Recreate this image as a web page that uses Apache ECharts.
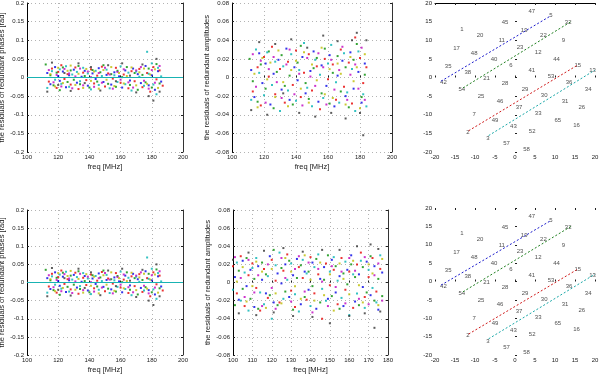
<!DOCTYPE html>
<html>
<head>
<meta charset="utf-8">
<script src="https://cdn.jsdelivr.net/npm/echarts@6/dist/echarts.min.js"></script>
<style>
  html, body { margin: 0; background: #fff; }
  #main { width: 600px; height: 375px; }
</style>
</head>
<body>
<div id="main"></div>
<script>
// residuals of redundant phases (left panels), [freq MHz, rad]
var phBlue = [[113,0.012],[115,-0.018],[118,0.028],[120,0.004],[121,-0.009],[123,0.016],[125,-0.026],[127,0.006],[130,0.021],[132,-0.014],[135,0.002],[137,0.018],[139,-0.022],[142,0.011],[144,-0.004],[146,0.025],[149,-0.012],[151,0.007],[154,-0.019],[156,0.014],[159,0.003],[161,-0.027],[163,0.019],[166,-0.008],[168,0.024],[171,0.009],[173,-0.015],[176,0.031],[178,-0.021],[180,0.006],[182,-0.033],[184,0.017],[186,-0.011]];
var phRed = [[114,-0.011],[116,0.024],[119,-0.028],[120,0.015],[122,0.033],[124,-0.004],[126,0.009],[128,-0.019],[131,0.027],[133,-0.031],[136,0.013],[138,-0.007],[141,0.022],[143,-0.016],[145,0.005],[148,0.029],[150,-0.024],[152,0.011],[155,-0.003],[157,0.026],[160,-0.014],[162,0.008],[165,-0.029],[167,0.017],[169,-0.01],[172,0.023],[174,-0.026],[177,0.012],[179,-0.038],[181,0.028],[183,-0.005],[185,0.019],[187,-0.022]];
var phGreen = [[112,0.035],[115,0.006],[117,-0.021],[119,0.013],[121,-0.034],[123,0.027],[126,-0.012],[128,0.019],[130,-0.006],[133,0.031],[134,-0.018],[137,0.004],[140,-0.027],[142,0.02],[145,-0.011],[147,0.014],[149,0.033],[152,-0.017],[154,0.009],[157,-0.025],[158,0.018],[161,0.001],[164,0.028],[166,-0.02],[169,0.012],[171,-0.033],[174,0.007],[176,-0.013],[178,0.024],[180,-0.027],[183,0.036],[185,-0.016]];
var phCyan = [[113,-0.028],[116,0.017],[118,-0.006],[121,0.022],[122,-0.017],[125,0.03],[127,-0.025],[129,0.008],[132,0.015],[134,-0.01],[136,0.026],[139,0.011],[141,-0.032],[144,0.018],[146,-0.02],[148,0.004],[151,0.021],[153,-0.029],[156,0.006],[158,-0.012],[160,0.03],[163,-0.018],[165,0.013],[167,-0.035],[170,0.016],[172,0.002],[175,-0.022],[177,0.069],[178,0.01],[180,0.038],[181,-0.019],[183,-0.045],[184,0.026],[186,0.003]];
var phMagenta = [[114,0.02],[117,-0.013],[119,0.007],[122,-0.024],[124,0.023],[127,0.011],[129,-0.029],[131,0.003],[134,0.024],[136,-0.021],[139,0.016],[141,0.001],[143,-0.025],[146,0.012],[148,-0.014],[150,0.026],[153,0.008],[155,-0.03],[158,0.015],[160,-0.006],[162,0.022],[165,-0.013],[168,-0.027],[170,0.019],[173,0.028],[175,-0.009],[178,-0.03],[180,0.02],[182,-0.014],[185,0.031]];
var phYellow = [[115,0.009],[118,-0.024],[120,0.026],[123,-0.015],[126,0.018],[128,0.032],[131,-0.02],[133,0.01],[136,-0.028],[138,0.023],[141,-0.009],[143,0.016],[146,-0.03],[149,0.02],[151,-0.006],[154,0.028],[156,-0.023],[159,0.012],[162,-0.016],[164,0.004],[167,0.027],[170,-0.021],[172,0.014],[175,0.024],[177,-0.017],[179,0.008],[182,0.022],[184,-0.028]];
var phBlack = [[113,-0.038],[116,0.04],[120,-0.02],[124,0.012],[128,-0.036],[133,0.038],[137,-0.015],[141,0.028],[147,-0.035],[152,0.033],[157,-0.01],[161,0.038],[166,0.005],[170,-0.04],[174,0.035],[178,-0.05],[181,-0.062],[183,0.05],[185,-0.038]];

// residuals of redundant amplitudes, top-middle panel
var amTopBlue = [[112,0.008],[114,-0.021],[117,0.026],[119,-0.006],[121,0.015],[124,-0.029],[126,0.004],[129,0.019],[131,-0.013],[134,0.031],[136,-0.024],[139,0.011],[141,-0.003],[144,0.022],[146,-0.017],[149,0.007],[151,0.028],[154,-0.026],[156,0.013],[159,-0.009],[161,0.024],[164,-0.031],[166,0.002],[169,0.018],[171,-0.02],[174,0.027],[176,-0.012],[179,0.006],[181,-0.027],[183,0.015]];
var amTopRed = [[113,-0.015],[116,0.011],[118,-0.03],[120,0.022],[123,0.001],[125,0.033],[127,-0.018],[130,0.009],[133,-0.027],[135,0.017],[138,-0.008],[140,0.029],[143,-0.021],[145,0.005],[148,0.025],[150,-0.014],[153,0.012],[155,-0.034],[158,0.02],[160,-0.002],[163,0.014],[165,-0.024],[168,0.03],[170,-0.01],[173,0.016],[175,-0.028],[177,0.043],[180,0.021],[182,-0.006],[184,0.011]];
var amTopGreen = [[111,0.02],[113,-0.004],[116,-0.026],[118,0.014],[121,-0.012],[123,0.028],[126,-0.033],[128,0.006],[131,0.024],[133,-0.009],[136,0.002],[138,-0.029],[141,0.016],[143,0.034],[146,-0.006],[148,-0.023],[151,0.01],[153,0.021],[156,-0.017],[158,0.031],[161,-0.028],[163,0.005],[166,0.023],[168,-0.015],[171,0.011],[173,-0.032],[176,0.019],[178,0.036],[181,-0.021],[183,0.003]];
var amTopCyan = [[112,-0.024],[115,0.03],[117,0.005],[120,-0.019],[122,0.027],[125,-0.008],[127,0.017],[130,-0.036],[132,0.012],[135,-0.014],[137,0.025],[140,-0.025],[142,0.008],[145,0.037],[147,-0.011],[150,-0.031],[152,0.019],[155,0.003],[157,-0.022],[160,0.015],[162,0.035],[165,-0.005],[167,-0.027],[170,0.026],[172,-0.016],[175,0.009],[177,-0.036],[179,0.028],[182,-0.018],[184,-0.031]];
var amTopMagenta = [[113,0.025],[115,-0.01],[118,0.018],[121,-0.027],[123,0.009],[126,0.022],[128,-0.005],[131,-0.022],[134,0.014],[136,0.03],[139,-0.018],[142,0.004],[144,-0.03],[147,0.021],[149,0.001],[152,-0.009],[154,0.026],[157,0.011],[159,-0.029],[162,0.019],[164,-0.013],[167,0.008],[169,0.033],[172,-0.024],[174,0.003],[177,0.014],[179,-0.012],[181,0.032],[183,-0.024]];
var amTopYellow = [[114,0.004],[116,-0.032],[119,0.021],[122,-0.002],[124,0.016],[127,-0.021],[129,0.029],[132,-0.005],[135,-0.031],[137,0.008],[140,0.018],[143,-0.012],[145,0.027],[148,-0.027],[150,0.014],[153,-0.003],[156,0.032],[158,-0.018],[161,0.009],[163,-0.022],[166,0.015],[168,0.004],[171,-0.029],[174,0.022],[176,-0.004],[178,0.011],[180,-0.033],[183,0.025]];
var amTopBlack = [[112,-0.035],[117,0.038],[122,-0.04],[127,0.036],[132,-0.017],[137,0.041],[142,-0.038],[147,0.032],[152,-0.042],[157,0.045],[162,-0.038],[166,0.039],[171,-0.044],[175,0.04],[178,0.048],[180,-0.038],[182,-0.062],[184,0.04]];

// residuals of redundant amplitudes, bottom-middle panel
var amBotBlue = [[101,0.006],[103,-0.019],[105,0.024],[107,-0.004],[109,0.014],[111,-0.027],[113,0.018],[115,0.003],[117,-0.012],[119,0.029],[121,-0.022],[123,0.01],[125,-0.001],[127,0.02],[129,-0.016],[131,0.008],[133,0.026],[135,-0.024],[137,0.012],[139,-0.008],[141,0.022],[143,-0.029],[145,0.004],[147,0.017],[149,-0.018],[151,0.025],[153,-0.011],[155,0.007],[157,-0.026],[159,0.014],[161,0.03],[163,-0.021],[165,0.009],[167,-0.005],[169,0.023],[171,-0.014],[173,0.018],[175,-0.03],[177,0.011]];
var amBotRed = [[100,0.018],[102,-0.012],[104,0.029],[106,-0.026],[108,0.008],[110,0.021],[112,-0.006],[114,-0.031],[116,0.015],[118,-0.017],[120,0.025],[122,0.002],[124,-0.022],[126,0.013],[128,0.031],[130,-0.009],[132,-0.027],[134,0.017],[136,0.005],[138,-0.019],[140,0.028],[142,-0.012],[144,0.009],[146,-0.04],[148,0.021],[150,-0.003],[152,0.014],[154,-0.024],[156,0.027],[158,-0.008],[160,0.012],[162,-0.028],[164,0.02],[166,0.033],[168,-0.016],[170,0.006],[172,0.027],[174,-0.01],[176,0.015]];
var amBotGreen = [[101,-0.025],[103,0.013],[105,-0.007],[107,0.027],[109,-0.018],[111,0.004],[113,-0.029],[115,0.022],[117,0.009],[119,-0.014],[121,0.036],[123,-0.025],[125,0.016],[127,-0.01],[129,0.024],[131,-0.03],[133,0.005],[135,0.019],[137,-0.016],[139,0.012],[141,-0.004],[143,0.026],[145,-0.022],[147,0.003],[149,0.03],[151,-0.015],[153,0.018],[155,-0.029],[157,0.01],[159,-0.002],[161,0.02],[163,0.006],[165,-0.025],[167,0.017],[169,-0.011],[171,0.029],[173,-0.02],[175,0.004],[177,-0.015]];
var amBotCyan = [[100,-0.008],[102,0.022],[104,-0.02],[106,0.011],[108,-0.031],[110,0.016],[112,0.027],[114,-0.011],[116,-0.024],[118,0.007],[120,-0.04],[122,0.019],[124,0.033],[126,-0.018],[128,0.003],[130,0.021],[132,-0.013],[134,-0.032],[136,0.025],[138,0.01],[140,-0.026],[142,0.017],[144,0.031],[146,-0.007],[148,-0.02],[150,0.012],[152,0.028],[154,0.002],[156,-0.017],[158,0.023],[160,-0.036],[162,0.009],[164,-0.012],[166,0.024],[168,-0.028],[170,0.014],[172,-0.006],[174,-0.022],[176,0.03]];
var amBotMagenta = [[101,0.028],[104,0.005],[106,-0.016],[108,0.025],[111,-0.011],[113,0.008],[115,-0.026],[118,0.02],[120,-0.006],[122,-0.029],[125,0.027],[127,0.005],[130,-0.021],[132,0.015],[134,0.029],[137,-0.01],[139,0.022],[141,-0.033],[144,0.015],[146,0.001],[149,-0.026],[151,0.018],[153,-0.005],[156,0.012],[158,-0.023],[160,0.027],[163,0.013],[165,-0.018],[168,0.028],[170,-0.024],[173,0.008],[175,0.021],[177,-0.02]];
var amBotYellow = [[102,0.001],[105,0.017],[107,-0.021],[110,-0.004],[112,0.023],[115,0.012],[117,-0.028],[120,0.015],[122,-0.012],[125,-0.023],[127,0.027],[130,0.012],[132,-0.004],[135,-0.018],[137,0.03],[140,0.003],[142,-0.02],[145,0.022],[147,-0.014],[150,0.009],[152,-0.031],[155,0.021],[157,0.004],[160,-0.013],[162,0.024],[165,-0.003],[167,-0.022],[170,0.02],[172,0.01],[175,-0.025],[177,0.026]];
var amBotBlack = [[100,0.025],[103,-0.034],[108,0.033],[112,-0.036],[116,0.035],[121,-0.033],[126,0.038],[131,-0.037],[136,0.034],[141,-0.038],[146,0.036],[150,-0.045],[155,0.036],[160,-0.037],[164,0.04],[168,-0.034],[171,0.042],[173,-0.05],[175,0.037],[176,-0.032]];

// zero line of the phase panels
var zeroLine = [[100, 0], [200, 0]];

// antenna layout (right panels)
var antX = [4.2, 9, 13.3, -2.5, -13.3, -8.75, 2.3, 7.1, -3.3, 12.1, -14.6, -10.2, 1.25, 5.8, -5.25, 10.4, -16.7, -11.8, -1, 4.2, 15.7, 19.4, -7.1, 9, 13.5, -17.9, -13.3, -2.5, 18.3, 2.5, 7.3, -8.5, 12.5, -3.75, 1, 16.7, 5.8, -10.2, -5, 10.7, 15.4, -0.4, 4.3, -11.8, -6.8, -2.1, 2.9];
var antY = [17.7, 16.6, 14.8, 14.8, 13.0, 11.4, 12.6, 11.4, 9.9, 9.9, 7.8, 6.5, 8.1, 6.7, 4.9, 4.9, 3.1, 1.5, 3.2, 1.8, 3.3, 1.8, -0.1, 0.2, -1.4, -1.4, -3.2, -1.6, -3.2, -3.2, -4.8, -5.0, -6.3, -6.3, -8.1, -7.9, -9.7, -9.9, -11.4, -11.4, -12.9, -13.2, -14.4, -14.7, -16.2, -17.8, -19.2];
var antLabel = ['47', '5', '32', '45', '1', '20', '19', '22', '11', '9', '17', '48', '23', '12', '40', '44', '35', '38', '6', '41', '15', '13', '21', '53', '36', '42', '54', '28', '34', '29', '30', '25', '31', '46', '37', '26', '33', '7', '49', '65', '16', '43', '52', '2', '3', '57', '58'];

// redundant baseline rows
var rowBlue = [[-18.5, -1.0], [9.0, 16.6]];
var rowGreen = [[-13.0, -2.8], [14.0, 15.0]];
var rowRed = [[-11.6, -14.3], [15.6, 3.3]];
var rowCyan = [[-6.6, -15.6], [20.0, 2.0]];

var xTicksFreq = [100, 200, 20];
var xTicksFreqBot = [100, 180, 10];
var yTicksPhase = [-0.2, 0.2, 0.05];
var yTicksAmp = [-0.08, 0.08, 0.02];
var ticksAnt = [-20, 20, 5];

var C = {
  blue: '#0000e6', red: '#e60000', green: '#008c00', cyan: '#00b3b3',
  magenta: '#bf00bf', yellow: '#bdbd00', black: '#333333'
};

var phaseSet = [[phBlue, C.blue], [phRed, C.red], [phGreen, C.green], [phCyan, C.cyan], [phMagenta, C.magenta], [phYellow, C.yellow], [phBlack, C.black]];
var ampTopSet = [[amTopBlue, C.blue], [amTopRed, C.red], [amTopGreen, C.green], [amTopCyan, C.cyan], [amTopMagenta, C.magenta], [amTopYellow, C.yellow], [amTopBlack, C.black]];
var ampBotSet = [[amBotBlue, C.blue], [amBotRed, C.red], [amBotGreen, C.green], [amBotCyan, C.cyan], [amBotMagenta, C.magenta], [amBotYellow, C.yellow], [amBotBlack, C.black]];

var FONT = 'Liberation Sans, Arial, sans-serif';
var TXT = '#1a1a1a';

var panels = [
  { box: { left: 27, top: 3, width: 156, height: 149 }, x: xTicksFreq, y: yTicksPhase, yname: 'the residuals of redundant phases [rad]', nameGap: 19, dots: phaseSet, zero: true },
  { box: { left: 232, top: 3, width: 160, height: 149 }, x: xTicksFreq, y: yTicksAmp, yname: 'the residuals of redundant amplitudes', nameGap: 18, dots: ampTopSet },
  { box: { left: 435, top: 3, width: 160, height: 149 }, x: ticksAnt, y: ticksAnt, ant: true, topLine: true },
  { box: { left: 27, top: 210, width: 156, height: 145 }, x: xTicksFreq, y: yTicksPhase, yname: 'the residuals of redundant phases [rad]', nameGap: 19, dots: phaseSet, zero: true },
  { box: { left: 233, top: 210, width: 155, height: 145 }, x: xTicksFreqBot, y: yTicksAmp, yname: 'the residuals of redundant amplitudes', nameGap: 18, dots: ampBotSet },
  { box: { left: 435, top: 208, width: 160, height: 147 }, x: ticksAnt, y: ticksAnt, ant: true, topLine: false }
];

function fmt(v) { return String(parseFloat(v.toFixed(3))); }

var grids = [], xAxes = [], yAxes = [], series = [];
var dotted = { color: '#b3b3b3', type: [1, 3], width: 1 };

panels.forEach(function (p, gi) {
  grids.push(Object.assign({ outerBoundsMode: 'none', containLabel: false }, p.box));
  var xi = xAxes.length, yi = yAxes.length;
  xAxes.push({
    type: 'value', gridIndex: gi, min: p.x[0], max: p.x[1], interval: p.x[2],
    name: p.ant ? '' : 'freq [MHz]', nameLocation: 'middle', nameGap: 11,
    nameTextStyle: { fontSize: 7.5, color: TXT, fontFamily: FONT },
    axisLine: { show: false },
    axisTick: { show: true, inside: true, length: 2, lineStyle: { color: '#222' } },
    axisLabel: { fontSize: 6, color: TXT, fontFamily: FONT, margin: 2, showMinLabel: true, showMaxLabel: true },
    splitLine: { show: !p.ant, lineStyle: dotted }
  });
  yAxes.push({
    type: 'value', gridIndex: gi, min: p.y[0], max: p.y[1], interval: p.y[2],
    name: p.yname || '', nameLocation: 'middle', nameGap: p.nameGap || 0,
    nameTextStyle: { fontSize: 7.5, color: TXT, fontFamily: FONT },
    axisLine: { show: !p.ant, lineStyle: { color: '#000', width: 1 } },
    axisTick: { show: true, inside: true, length: 2, lineStyle: { color: '#222' } },
    axisLabel: { fontSize: 6, color: TXT, fontFamily: FONT, margin: 3, formatter: fmt, showMinLabel: true, showMaxLabel: true },
    splitLine: { show: !p.ant, lineStyle: dotted }
  });
  if (!p.ant) {
    // right edge of the box
    yAxes.push({
      type: 'value', gridIndex: gi, position: 'right', min: p.y[0], max: p.y[1], interval: p.y[2],
      axisLine: { show: true, lineStyle: { color: '#333', width: 1 } },
      axisTick: { show: true, inside: true, length: 2, lineStyle: { color: '#222' } },
      axisLabel: { show: false }, splitLine: { show: false }
    });
  } else {
    xAxes.push({
      type: 'value', gridIndex: gi, position: 'top', min: p.x[0], max: p.x[1], interval: p.x[2],
      axisLine: { show: p.topLine, lineStyle: { color: '#000', width: 1 } },
      axisTick: { show: true, inside: true, length: 2, lineStyle: { color: '#222' } },
      axisLabel: { show: false }, splitLine: { show: false }
    });
  }

  if (p.dots) {
    p.dots.forEach(function (d) {
      series.push({
        type: 'scatter', xAxisIndex: xi, yAxisIndex: yi, data: d[0],
        symbol: 'rect', symbolSize: 2, itemStyle: { color: d[1] }, silent: true
      });
    });
  }
  if (p.zero) {
    series.push({
      type: 'line', xAxisIndex: xi, yAxisIndex: yi, data: zeroLine, symbol: 'none',
      lineStyle: { color: '#19b3b3', width: 1.2 }, silent: true, z: 3
    });
  }
  if (p.ant) {
    [[rowBlue, '#1a1acc'], [rowGreen, '#1f7f1f'], [rowRed, '#d01a1a'], [rowCyan, '#19a8a8']].forEach(function (r) {
      series.push({
        type: 'line', xAxisIndex: xi, yAxisIndex: yi, data: r[0], symbol: 'none',
        lineStyle: { color: r[1], width: 1, type: [2, 2] }, silent: true
      });
    });
    var pts = antX.map(function (x, i) { return [x, antY[i], antLabel[i]]; });
    series.push({
      type: 'scatter', xAxisIndex: xi, yAxisIndex: yi, data: pts, symbolSize: 1,
      itemStyle: { color: 'rgba(0,0,0,0)' }, silent: true,
      label: { show: true, position: 'inside', formatter: function (q) { return q.value[2]; }, fontSize: 6, color: '#222', fontFamily: FONT }
    });
  }
});

var chart = echarts.init(document.getElementById('main'), null, { renderer: 'canvas' });
chart.setOption({
  animation: false,
  backgroundColor: '#fff',
  grid: grids,
  xAxis: xAxes,
  yAxis: yAxes,
  series: series
});
</script>
</body>
</html>
